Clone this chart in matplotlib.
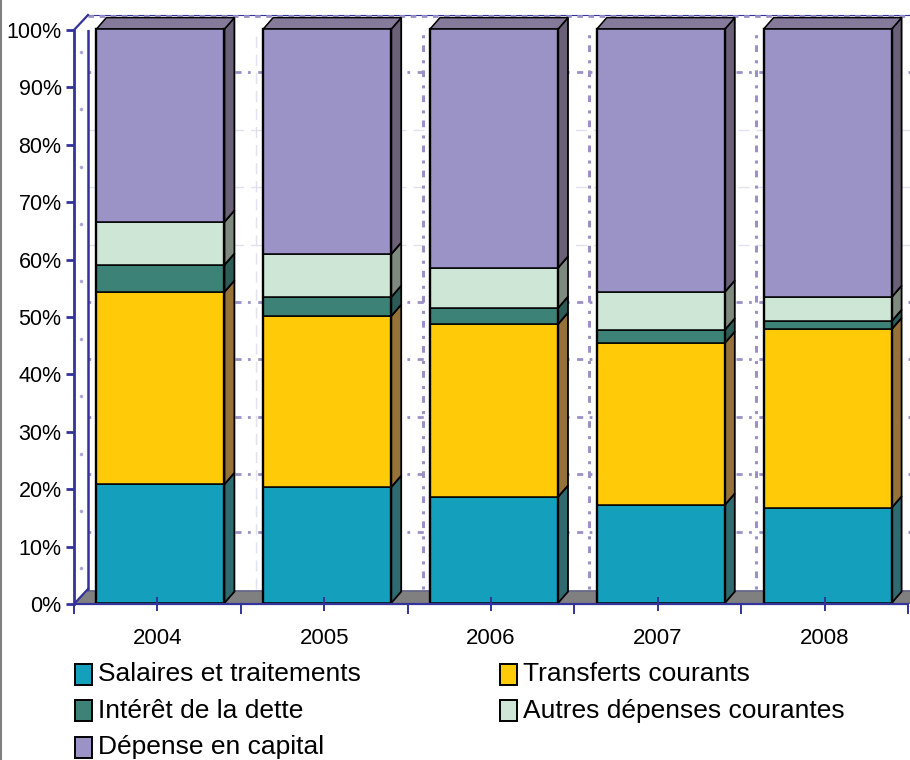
import matplotlib
matplotlib.use('Agg')
from matplotlib import pyplot as plt
from matplotlib.patches import Polygon, Rectangle

plt.rcParams['font.family'] = ['Liberation Sans', 'DejaVu Sans']

years = ['2004', '2005', '2006', '2007', '2008']
salaires = [20.7, 20.2, 18.5, 17.1, 16.6]
transferts = [33.5, 29.8, 30.1, 28.2, 31.1]
interet = [4.7, 3.3, 2.8, 2.3, 1.4]
autres = [7.5, 7.5, 7.0, 6.6, 4.2]
capital = [33.6, 39.2, 41.6, 45.8, 46.7]

series = [salaires, transferts, interet, autres, capital]
names = ['Salaires et traitements', 'Transferts courants', 'Intérêt de la dette',
         'Autres dépenses courantes', 'Dépense en capital']
colors = ['#149FBD', '#FFCB08', '#3D8277', '#CDE6D6', '#9B93C6']
side_colors = ['#2F6A70', '#967238', '#2C5C55', '#7E8A7E', '#6A6078']
top_color = '#857A99'
axis_color = '#333399'
grid_color = '#9B91C8'

W, H = 910, 760
fig = plt.figure(figsize=(W / 100, H / 100), dpi=100)
# axes: x from 74 to 908 px, y from 604 to 30 px
ax = fig.add_axes([74 / W, 1 - 604 / H, (908 - 74) / W, (604 - 30) / H])
ax.set_xlim(-0.5, 4.5)
ax.set_ylim(0, 100)
ax.patch.set_visible(False)

px_x = 5 / (908 - 74)
px_y = 100 / (604 - 30)
dx = 10 * px_x
dy = 11.5 * px_y
wall_dx = 14 * px_x
wall_dy = 15 * px_y
bar_w = 128 * px_x
shift = 3 * px_x
lift = 0.9 * px_y
right = 4.5 + 2 * px_x
grid_dash = (0, (1, 2.7, 2.2, 2.3))

# floor
floor_y = wall_dy - 1.5 * px_y
ax.add_patch(Polygon([(-0.5, 0), (-0.5 + wall_dx, floor_y), (right, floor_y), (right, 0)],
                     closed=True, fc='#808080', ec='none', zorder=1, clip_on=False))
ax.plot([-0.5 + wall_dx, right], [floor_y] * 2, color='#66668C', lw=1.2, zorder=1.1, clip_on=False)

# back wall grid
faint = [60, 70, 80]
for v in range(10, 100, 10):
    if v in faint:
        ax.plot([-0.5 + wall_dx, right], [v + wall_dy] * 2, color='#E2DFEF', lw=1, ls=(0, (8, 5)), zorder=1.2, clip_on=False)
    else:
        ax.plot([-0.5 + wall_dx, right], [v + wall_dy] * 2, color=grid_color, lw=2, ls=grid_dash, zorder=1.2, clip_on=False)
ax.plot([-0.5 + wall_dx, right], [100 + wall_dy] * 2, color=axis_color, lw=0.8, zorder=1.2, clip_on=False)
ax.plot([-0.5 + wall_dx, right], [100 + wall_dy - 0.2] * 2, color=grid_color, lw=2, ls=(0, (2, 2)), zorder=1.2, clip_on=False)
for i in range(1, 5):
    x = i - 0.5 + wall_dx + 1 * px_x
    if i == 1:
        ax.plot([x, x], [wall_dy, 100 + wall_dy], color='#E2DFEF', lw=1, ls=(0, (8, 5)), zorder=1.2)
    else:
        ax.plot([x, x], [wall_dy, 100 + wall_dy], color=grid_color, lw=2.2, ls=grid_dash, zorder=1.2)

# left wall
ax.plot([-0.5 + wall_dx] * 2, [wall_dy, 100 + wall_dy], color=axis_color, lw=1.8, zorder=1.3)
ax.plot([-0.5, -0.5 + wall_dx], [100, 100 + wall_dy], color=axis_color, lw=1.6, zorder=1.3, clip_on=False)
ax.plot([-0.5, -0.5 + wall_dx], [0, wall_dy], color=axis_color, lw=1.6, zorder=1.3)
for v in range(5, 100, 10):
    ax.plot([-0.5 + 7 * px_x], [v + 7 * px_y], marker='o', ms=1.6, color=grid_color, zorder=1.3, alpha=0.7)

# stacked bars with fake depth
positions = [i + shift for i in range(len(years))]
bottom = [lift] * len(years)
for s, vals in enumerate(series):
    ax.bar(positions, vals, width=bar_w, bottom=bottom, color=colors[s], edgecolor='black', lw=1.1,
           zorder=3, clip_on=False)
    for i, x in enumerate(positions):
        xr = x + bar_w / 2
        y0 = bottom[i]
        y1 = y0 + vals[i]
        ax.add_patch(Polygon([(xr, y0), (xr + dx, y0 + dy), (xr + dx, y1 + dy), (xr, y1)], closed=True,
                             fc=side_colors[s], ec='black', lw=1.3, zorder=2.5, clip_on=False))
        if s == len(series) - 1:
            xl = x - bar_w / 2
            ax.add_patch(Polygon([(xl, y1), (xl + dx, y1 + dy), (xr + dx, y1 + dy), (xr, y1)], closed=True,
                                 fc=top_color, ec='black', lw=1.1, zorder=2.5, clip_on=False))
    bottom = [b + v for b, v in zip(bottom, vals)]

# heavier black on the bar sides
for i, x in enumerate(positions):
    for xe in [x - bar_w / 2, x + bar_w / 2]:
        ax.plot([xe, xe], [lift, bottom[i]], color='black', lw=1.7, zorder=3.2, clip_on=False)

# axes
for side in ['top', 'right']:
    ax.spines[side].set_visible(False)
ax.spines['left'].set_color(axis_color)
ax.spines['left'].set_linewidth(2)
ax.spines['left'].set_zorder(4)
ax.spines['bottom'].set_color(axis_color)
ax.spines['bottom'].set_linewidth(1.6)
ax.spines['bottom'].set_zorder(4)

ax.set_yticks(range(0, 101, 10))
ax.set_yticklabels([str(v) + '%' for v in range(0, 101, 10)], size=15.5)
ax.tick_params(axis='y', color=axis_color, width=2, length=6, pad=3)
ax.set_xticks(range(len(years)))
ax.set_xticklabels(years, size=16)
ax.xaxis.set_zorder(5)
ax.tick_params(axis='x', which='major', color=axis_color, width=1.4, length=10, direction='inout', pad=12)
ax.set_xticks([i - 0.5 for i in range(6)], minor=True)
ax.tick_params(axis='x', which='minor', color=axis_color, width=1.4, length=7)

# legend by hand, two columns
legend_pos = [(75, 664), (500, 664), (75, 700), (500, 700), (75, 737)]
row_y = [674, 674, 711, 711, 747]
for s, name in enumerate(names):
    lx, ly = legend_pos[s]
    fig.add_artist(Rectangle((lx / W, 1 - (ly + 21) / H), 17 / W, 21 / H, transform=fig.transFigure,
                             fc=colors[s], ec='black', lw=1.4))
    fig.text((lx + 23) / W, 1 - row_y[s] / H, name, size=19, va='center', ha='left')

# outer frame on the left edge
fig.add_artist(plt.Line2D([0.5 / W, 0.5 / W], [0, 1], color='#808080', lw=1.5))

plt.savefig('out.png', dpi=100)
plt.close()
